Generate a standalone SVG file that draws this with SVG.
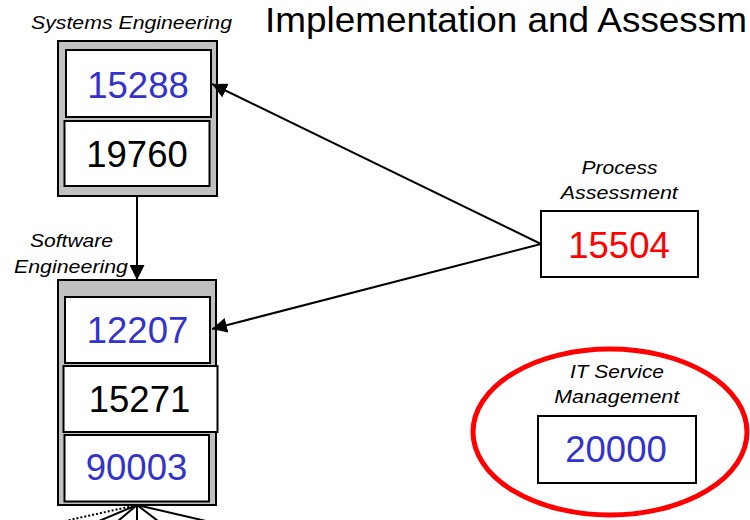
<svg xmlns="http://www.w3.org/2000/svg" width="750" height="520" viewBox="0 0 750 520">
<defs>
<marker id="arr" viewBox="0 0 10 10" refX="10" refY="5" markerWidth="15" markerHeight="15" markerUnits="userSpaceOnUse" orient="auto">
<path d="M0,0 L10,5 L0,10 z" fill="#000"/>
</marker>
<style>
.outer{fill:#c0c0c0;stroke:#000;stroke-width:2}
.inner{fill:#fff;stroke:#000;stroke-width:2}
.num{font-family:"Liberation Sans",Arial,sans-serif;font-size:36.5px;text-anchor:middle}
.blue{fill:#3333cc}
.black{fill:#000}
.red{fill:#ff0000}
.lbl{font-family:"Liberation Sans",Arial,sans-serif;font-size:19px;font-style:italic;text-anchor:middle;fill:#000}
.conn{stroke:#000;stroke-width:2;fill:none}
</style>
</defs>
<rect width="750" height="520" fill="#fff"/>
<text x="265" y="32" font-family="'Liberation Sans',Arial,sans-serif" font-size="35" textLength="482" lengthAdjust="spacingAndGlyphs" fill="#000">Implementation and Assessm</text>

<g id="systems-engineering">
<text class="lbl" x="131.5" y="29" textLength="201" lengthAdjust="spacingAndGlyphs">Systems Engineering</text>
<rect class="outer" x="58" y="41" width="159" height="155"/>
<g id="n15288">
<rect class="inner" x="66" y="50" width="145" height="67"/>
<text class="num blue" x="138" y="98">15288</text>
</g>
<g id="n19760">
<rect class="inner" x="64.5" y="121" width="145" height="65"/>
<text class="num black" x="137" y="167">19760</text>
</g>
</g>

<g id="software-engineering">
<text class="lbl" x="71.5" y="247" textLength="83" lengthAdjust="spacingAndGlyphs">Software</text>
<text class="lbl" x="71" y="273" textLength="114" lengthAdjust="spacingAndGlyphs">Engineering</text>
<rect class="outer" x="58" y="280" width="158" height="225"/>
<g id="n12207">
<rect class="inner" x="65" y="297" width="145" height="66"/>
<text class="num blue" x="137.5" y="343">12207</text>
</g>
<g id="n15271">
<rect class="inner" x="63.5" y="366" width="154" height="66"/>
<text class="num black" x="139.5" y="412">15271</text>
</g>
<g id="n90003">
<rect class="inner" x="64.5" y="435" width="144.5" height="66.5"/>
<text class="num blue" x="136.5" y="480">90003</text>
</g>
</g>

<g id="process-assessment">
<text class="lbl" x="619.5" y="174" textLength="76" lengthAdjust="spacingAndGlyphs">Process</text>
<text class="lbl" x="619.3" y="199" textLength="117" lengthAdjust="spacingAndGlyphs">Assessment</text>
<g id="n15504">
<rect class="inner" x="541" y="211" width="157" height="66"/>
<text class="num red" x="619" y="258">15504</text>
</g>
</g>

<g id="it-service-management">
<ellipse cx="610" cy="432" rx="137" ry="83" fill="none" stroke="#ff0000" stroke-width="5"/>
<text class="lbl" x="617" y="378" textLength="94" lengthAdjust="spacingAndGlyphs">IT Service</text>
<text class="lbl" x="616.7" y="403" textLength="125" lengthAdjust="spacingAndGlyphs">Management</text>
<g id="n20000">
<rect class="inner" x="538" y="416" width="158" height="67"/>
<text class="num blue" x="616" y="462">20000</text>
</g>
</g>

<g id="connectors">
<line class="conn" x1="137" y1="196" x2="137" y2="280" marker-end="url(#arr)"/>
<line class="conn" x1="541" y1="244" x2="212" y2="84" marker-end="url(#arr)"/>
<line class="conn" x1="541" y1="244" x2="212" y2="329" marker-end="url(#arr)"/>
<line x1="137" y1="505" x2="65" y2="521" stroke="#000" stroke-width="2" stroke-dasharray="2,2"/>
<line class="conn" x1="137" y1="505" x2="99" y2="521"/>
<line class="conn" x1="137" y1="505" x2="118" y2="521"/>
<line class="conn" x1="137" y1="505" x2="137" y2="521"/>
<line class="conn" x1="137" y1="505" x2="158" y2="521"/>
<line class="conn" x1="137" y1="505" x2="206" y2="521"/>
</g>
</svg>
